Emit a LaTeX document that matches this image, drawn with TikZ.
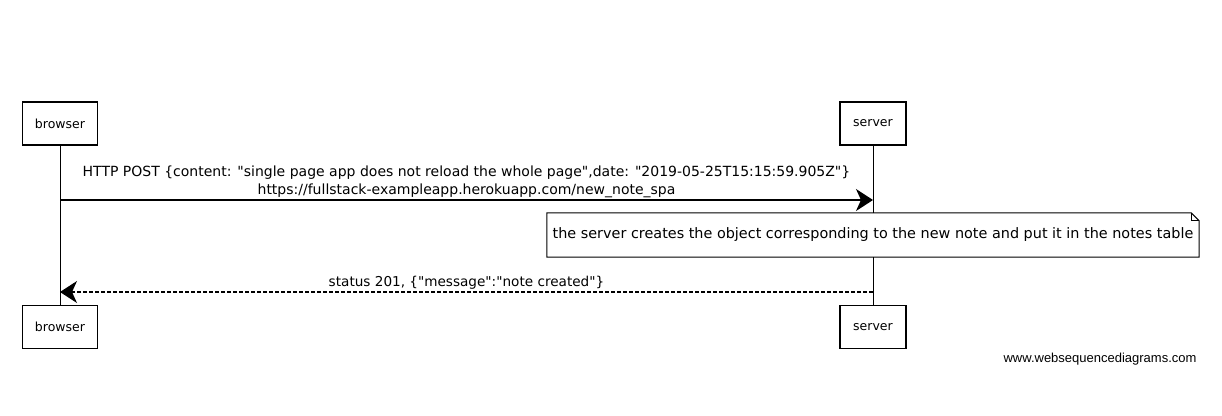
\documentclass[tikz,border=0pt]{standalone}
\usepackage{fontspec}
\setmainfont{DejaVu Sans}[Ligatures=TeXOff]
\setsansfont{Liberation Sans}
\usetikzlibrary{arrows.meta,positioning}
\tikzset{>={Stealth[length=17pt,width=22pt,inset=5pt]}}
\tikzset{%
    actor/.style={draw,line width=1.3pt,minimum width=75pt,minimum height=43pt,
        inner sep=2pt,font=\fontsize{12.5}{14}\selectfont},
    lifeline/.style={line width=0.7pt},
    message/.style={line width=1.2pt,->},
    reply/.style={line width=1.2pt,->,dash pattern=on 4pt off 2pt},
    msglabel/.style={font=\fontsize{14}{18}\selectfont,align=center,inner sep=2pt},
    notebox/.style={fill=white,minimum width=652pt,minimum height=44pt,
        font=\fontsize{14.4}{16}\selectfont}
}
\begin{document}
\begin{tikzpicture}[x=1pt,y=-1pt]
\useasboundingbox (0,0) rectangle (1222,415);
\node[actor] (browsertop) at (60,123.5) {browser};
\node[actor,minimum width=66pt] (servertop) at (873,123.5) {server};
\node[actor] (browserbot) at (60,327) {browser};
\node[actor,minimum width=66pt] (serverbot) at (873,327) {server};
\draw[lifeline] (browsertop) -- (browserbot);
\draw[lifeline] (servertop) -- (serverbot);
\coordinate (post b) at (browsertop |- 0,200);
\coordinate (post s) at (servertop |- 0,200);
\draw[message] (post b) -- node[msglabel,above]
    {HTTP POST \{content: "single page app does not reload the whole page",date: "2019-05-25T15:15:59.905Z"\}\\
     https://fullstack-exampleapp.herokuapp.com/new\_note\_spa} (post s);
\node[notebox] (note) at (servertop |- 0,235)
    {the server creates the object corresponding to the new note and put it in the notes table};
\draw[line width=1pt] (note.north west) -- ([xshift=-8pt]note.north east)
    -- ([yshift=-8pt]note.north east) -- (note.south east) -- (note.south west) -- cycle;
\draw[line width=0.8pt] ([xshift=-8pt]note.north east) |- ([yshift=-8pt]note.north east);
\coordinate (reply s) at (servertop |- 0,292);
\coordinate (reply b) at (browsertop |- 0,292);
\draw[reply] (reply s) -- node[msglabel,font=\fontsize{13.6}{16}\selectfont,above]
    {status 201, \{"message":"note created"\}} (reply b);
\node[font=\sffamily\fontsize{13}{15}\selectfont,anchor=base east] (credit) at (1200,362)
    {www.websequencediagrams.com};
\end{tikzpicture}
\end{document}
